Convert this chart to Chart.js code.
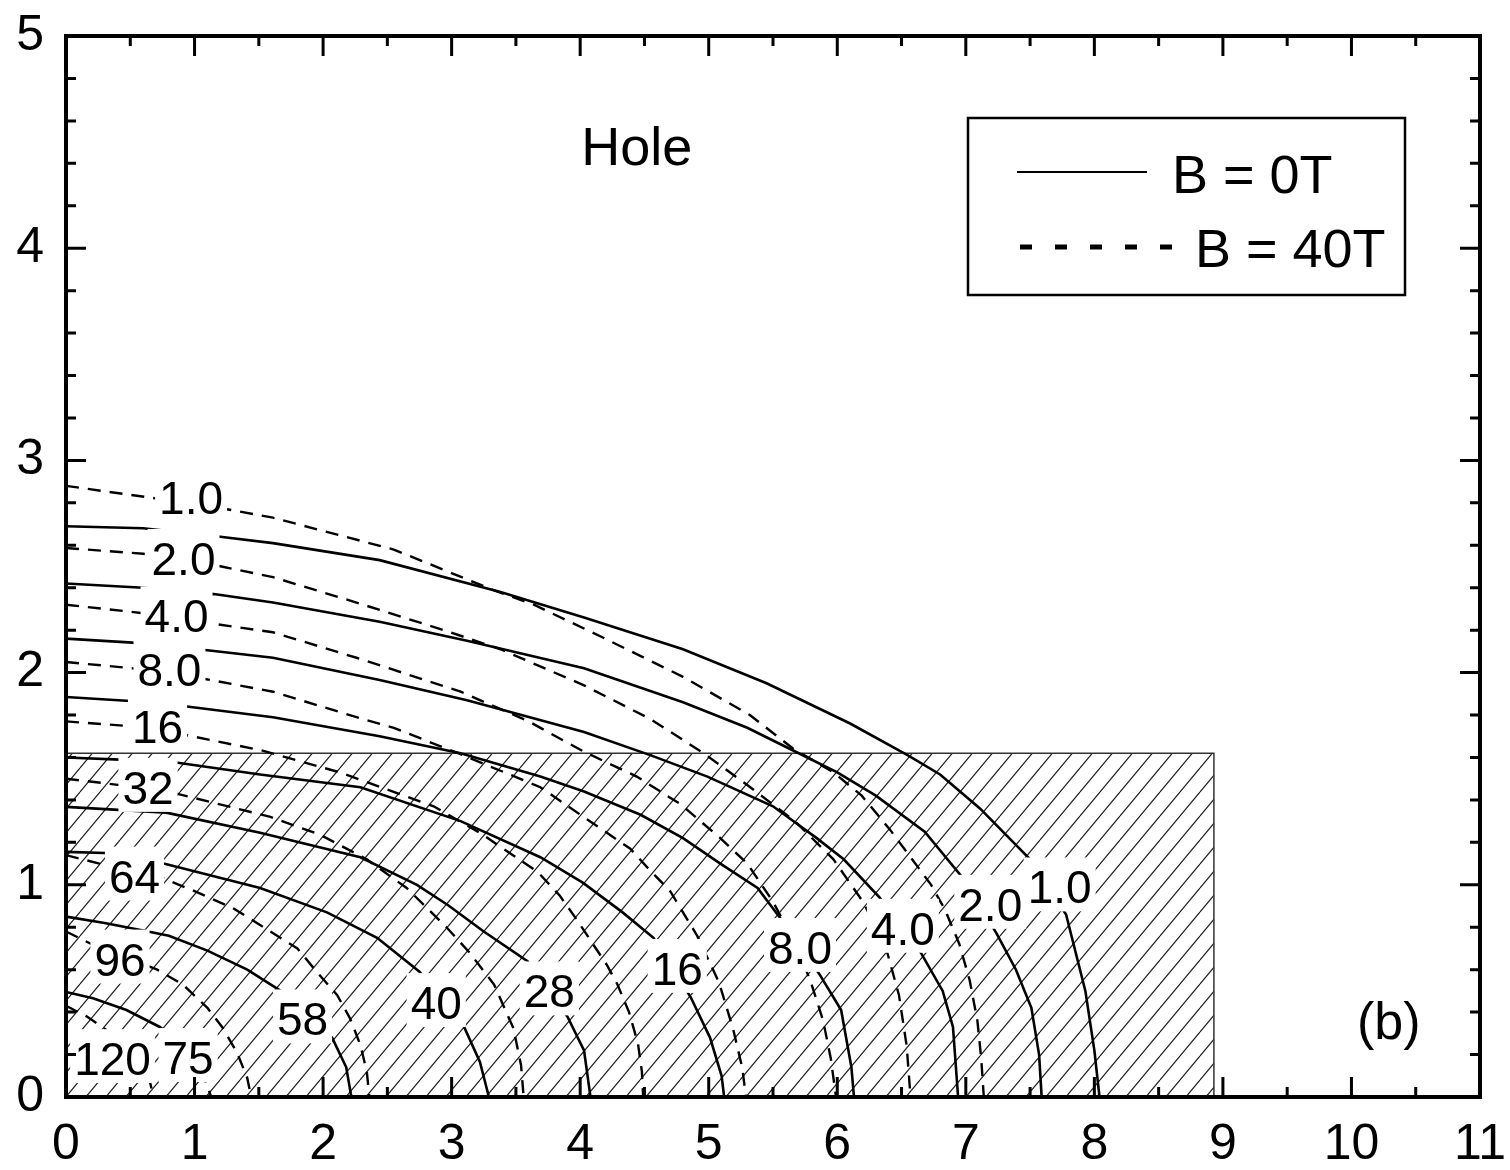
<!DOCTYPE html>
<html>
<head>
<meta charset="utf-8">
<script src="https://cdn.jsdelivr.net/npm/chart.js@4.4.0/dist/chart.umd.min.js"></script>
<style>
  html, body { margin: 0; padding: 0; background: #fff; }
  #wrap { width: 1510px; height: 1170px; }
</style>
</head>
<body>
<div id="wrap"><canvas id="holeChart"></canvas></div>
<script>
// B = 0T contours (solid), points as [x, y]
const s1_0 = [[0,2.69],[0.6,2.68],[1.2,2.64],[1.61,2.61],[2.44,2.53],[3.38,2.38],[4.03,2.26],[4.8,2.11],[5.45,1.95],[6.1,1.76],[6.55,1.61],[6.8,1.52],[7.11,1.36],[7.5,1.12],[7.78,0.86],[7.93,0.5],[8.0,0.22],[8.04,0]];
const s2_0 = [[0,2.42],[0.6,2.40],[1.15,2.37],[1.61,2.33],[2.44,2.24],[3.12,2.15],[4.03,2.02],[4.8,1.86],[5.3,1.74],[5.7,1.62],[6.0,1.53],[6.3,1.42],[6.68,1.25],[6.98,1.03],[7.24,0.77],[7.39,0.6],[7.51,0.42],[7.57,0.2],[7.59,0]];
const s4_0 = [[0,2.16],[0.55,2.14],[1.1,2.105],[1.61,2.07],[2.44,1.965],[3.12,1.87],[4.03,1.72],[4.55,1.61],[4.99,1.51],[5.5,1.37],[5.84,1.22],[6.05,1.12],[6.33,0.94],[6.65,0.68],[6.82,0.5],[6.9,0.33],[6.94,0]];
const s8_0 = [[0,1.885],[0.5,1.866],[0.94,1.84],[1.61,1.79],[2.44,1.70],[3.07,1.62],[3.69,1.51],[4.03,1.44],[4.47,1.33],[4.8,1.22],[5.09,1.1],[5.38,0.985],[5.56,0.84],[5.86,0.58],[6.03,0.41],[6.11,0.14],[6.13,0]];
const s16 = [[0,1.60],[0.42,1.59],[0.87,1.575],[1.51,1.52],[2.29,1.46],[3.07,1.30],[3.69,1.13],[4.02,1.01],[4.33,0.87],[4.57,0.75],[4.86,0.47],[5.01,0.28],[5.1,0.1],[5.12,0]];
const s28 = [[0,1.367],[0.78,1.34],[1.51,1.245],[2.29,1.13],[2.73,1.0],[2.97,0.905],[3.25,0.78],[3.59,0.64],[3.9,0.38],[4.03,0.22],[4.08,0]];
const s40 = [[0,1.155],[0.3,1.15],[0.76,1.10],[1.51,0.985],[2.03,0.87],[2.42,0.75],[2.75,0.59],[3.09,0.34],[3.22,0.165],[3.29,0]];
const s58 = [[0,0.85],[0.3,0.82],[0.6,0.785],[0.8,0.76],[1.1,0.69],[1.41,0.6],[1.67,0.5],[1.85,0.4],[2.07,0.28],[2.18,0.14],[2.22,0]];
const s75 = [[0,0.495],[0.21,0.465],[0.47,0.41],[0.73,0.33],[0.9,0.25]];

// B = 40T contours (dashed)
const d1_0 = [[0,2.88],[0.71,2.82],[1.25,2.77],[1.61,2.73],[2.55,2.58],[3.32,2.39],[3.64,2.32],[4.16,2.17],[4.8,1.98],[5.32,1.80],[5.66,1.64],[5.97,1.53],[6.19,1.42],[6.41,1.26],[6.57,1.13],[6.73,1.0],[6.84,0.88],[6.95,0.72],[7.03,0.55],[7.09,0.36],[7.12,0.18],[7.14,0]];
const d2_0 = [[0,2.587],[0.6,2.56],[1.21,2.50],[1.61,2.45],[2.26,2.33],[2.99,2.19],[3.38,2.11],[4.03,1.94],[4.55,1.78],[4.96,1.62],[5.3,1.47],[5.67,1.3],[5.97,1.12],[6.2,0.92],[6.38,0.7],[6.48,0.48],[6.54,0.24],[6.57,0]];
const d4_0 = [[0,2.32],[0.6,2.28],[1.15,2.23],[1.61,2.19],[2.26,2.07],[3.07,1.91],[3.6,1.77],[4.02,1.63],[4.44,1.51],[4.78,1.38],[5.09,1.22],[5.3,1.1],[5.5,0.92],[5.66,0.74],[5.79,0.55],[5.89,0.36],[5.95,0.18],[5.99,0]];
const d8_0 = [[0,2.05],[0.52,2.02],[1.08,1.97],[1.61,1.91],[2.26,1.79],[2.55,1.74],[3.05,1.62],[3.69,1.46],[4.05,1.31],[4.39,1.17],[4.54,1.07],[4.7,0.97],[4.91,0.76],[5.08,0.54],[5.19,0.32],[5.26,0.14],[5.29,0]];
const d16 = [[0,1.77],[0.45,1.75],[0.93,1.706],[1.51,1.635],[2.13,1.53],[2.86,1.37],[3.22,1.245],[3.67,1.06],[3.84,0.95],[3.98,0.83],[4.1,0.72],[4.21,0.62],[4.29,0.53],[4.38,0.4],[4.45,0.25],[4.48,0.12],[4.49,0]];
const d32 = [[0,1.50],[0.42,1.47],[0.86,1.43],[1.59,1.32],[1.98,1.235],[2.34,1.12],[2.65,0.985],[2.96,0.80],[3.14,0.68],[3.33,0.53],[3.48,0.325],[3.54,0.15],[3.56,0]];
const d64 = [[0,1.14],[0.26,1.10],[0.76,1.03],[1.0,0.97],[1.3,0.89],[1.59,0.78],[1.8,0.70],[1.95,0.59],[2.11,0.48],[2.21,0.37],[2.29,0.245],[2.34,0.12],[2.36,0]];
const d96 = [[0,0.78],[0.2,0.72],[0.71,0.6],[0.91,0.53],[1.1,0.42],[1.22,0.325],[1.33,0.21],[1.41,0.09],[1.44,0]];
const d120 = [[0,0.43],[0.16,0.38],[0.4,0.28],[0.55,0.19],[0.65,0.08],[0.68,0]];
const d75 = [[0.98,0.22],[1.07,0.1],[1.13,0]];

const solidLines = [s1_0, s2_0, s4_0, s8_0, s16, s28, s40, s58, s75];
const dashedLines = [d1_0, d2_0, d4_0, d8_0, d16, d32, d64, d96, d120, d75];

// contour level labels, centred on these points
const labelText = ['1.0', '2.0', '4.0', '8.0', '16', '32', '64', '96', '120', '75', '58', '40', '28', '16', '8.0', '4.0', '2.0', '1.0'];
const labelX = [0.973, 0.914, 0.86, 0.805, 0.712, 0.638, 0.533, 0.42, 0.362, 0.95, 1.84, 2.88, 3.76, 4.755, 5.71, 6.51, 7.19, 7.73];
const labelY = [2.825, 2.538, 2.267, 2.015, 1.748, 1.459, 1.041, 0.65, 0.181, 0.186, 0.368, 0.445, 0.5, 0.606, 0.705, 0.795, 0.908, 0.99];

// hatched region
const hatchX = [0, 8.93];
const hatchY = [0, 1.62];

// free text inside the plot
const noteText = ['Hole', '(b)'];
const noteX = [4.44, 10.29];
const noteY = [4.46, 0.34];

const legendText = ['B = 0T', 'B = 40T'];

const FONT = 'Liberation Sans, Arial, sans-serif';

const toPoints = arr => arr.map(p => ({ x: p[0], y: p[1] }));

function makeHatch(ctx) {
    const s = 20, h = 24;
    const c = document.createElement('canvas');
    c.width = s;
    c.height = h;
    const g = c.getContext('2d');
    g.strokeStyle = '#222';
    g.lineWidth = 1.2;
    g.beginPath();
    for (let k = -1; k <= 1; k++) {
        g.moveTo(k * s, h);
        g.lineTo(k * s + s, 0);
    }
    g.stroke();
    return ctx.createPattern(c, 'repeat');
}

// fixed axis box sizes, no extra room for overhanging end labels
function fixBox(size) {
    return function(scale) {
        if (scale.isHorizontal()) scale.height = size;
        else scale.width = size;
        scale.paddingTop = 0;
        scale.paddingBottom = 0;
        scale.paddingLeft = 0;
        scale.paddingRight = 0;
    };
}

const canvas = document.getElementById('holeChart');
const ctx = canvas.getContext('2d');

const datasets = [];
solidLines.forEach(line => {
    datasets.push({
        data: toPoints(line),
        showLine: true,
        borderColor: '#000',
        borderWidth: 2.6,
        pointRadius: 0,
        tension: 0,
        fill: false,
        order: 0
    });
});
dashedLines.forEach(line => {
    datasets.push({
        data: toPoints(line),
        showLine: true,
        borderColor: '#000',
        borderWidth: 2.4,
        borderDash: [13, 9],
        pointRadius: 0,
        tension: 0,
        fill: false,
        order: 0
    });
});
datasets.push({
    data: [
        { x: hatchX[0], y: hatchY[1] },
        { x: hatchX[1], y: hatchY[1] },
        { x: hatchX[1], y: hatchY[0] }
    ],
    showLine: true,
    borderColor: '#333',
    borderWidth: 1.5,
    backgroundColor: makeHatch(ctx),
    fill: 'origin',
    pointRadius: 0,
    tension: 0,
    order: 1
});

// white-boxed level labels on top of the lines
const contourLabels = {
    id: 'contourLabels',
    afterDatasetsDraw(chart) {
        const { ctx, scales: { x, y } } = chart;
        const size = 46;
        const cap = size * 0.716;
        ctx.save();
        ctx.font = size + 'px ' + FONT;
        ctx.textAlign = 'center';
        ctx.textBaseline = 'alphabetic';
        labelText.forEach((t, i) => {
            const px = x.getPixelForValue(labelX[i]);
            const py = y.getPixelForValue(labelY[i]);
            const w = ctx.measureText(t).width;
            const base = py + cap / 2;
            ctx.fillStyle = '#fff';
            ctx.fillRect(px - w / 2 - 4, base - cap - 13, w + 8, cap + 21);
        });
        labelText.forEach((t, i) => {
            const px = x.getPixelForValue(labelX[i]);
            const py = y.getPixelForValue(labelY[i]);
            ctx.fillStyle = '#000';
            ctx.fillText(t, px, py + cap / 2);
        });
        ctx.restore();
    }
};

// box frame, inward ticks on all four sides, notes and legend
const frame = {
    id: 'frame',
    afterDraw(chart) {
        const { ctx, chartArea: a, scales: { x, y } } = chart;
        ctx.save();
        ctx.strokeStyle = '#000';
        ctx.lineWidth = 3;
        ctx.beginPath();
        for (let v = 0; v <= 11; v += 0.5) {
            const p = x.getPixelForValue(v);
            const len = Number.isInteger(v) ? 20 : 10;
            ctx.moveTo(p, a.bottom); ctx.lineTo(p, a.bottom - len);
            ctx.moveTo(p, a.top); ctx.lineTo(p, a.top + len);
        }
        for (let k = 0; k <= 25; k++) {
            const p = y.getPixelForValue(k / 5);
            const len = k % 5 === 0 ? 20 : 10;
            ctx.moveTo(a.left, p); ctx.lineTo(a.left + len, p);
            ctx.moveTo(a.right, p); ctx.lineTo(a.right - len, p);
        }
        ctx.stroke();
        ctx.lineWidth = 4;
        ctx.strokeRect(a.left, a.top, a.right - a.left, a.bottom - a.top);

        ctx.fillStyle = '#000';
        ctx.textAlign = 'center';
        ctx.textBaseline = 'middle';
        ctx.font = '54px ' + FONT;
        ctx.fillText(noteText[0], x.getPixelForValue(noteX[0]), y.getPixelForValue(noteY[0]));
        ctx.font = '52px ' + FONT;
        ctx.fillText(noteText[1], x.getPixelForValue(noteX[1]), y.getPixelForValue(noteY[1]));

        // legend
        ctx.lineWidth = 2.5;
        ctx.strokeRect(968, 118, 437, 177);
        ctx.beginPath();
        ctx.lineWidth = 2;
        ctx.moveTo(1017, 172); ctx.lineTo(1147, 172);
        ctx.stroke();
        ctx.beginPath();
        ctx.lineWidth = 5;
        ctx.setLineDash([12, 23]);
        ctx.moveTo(1020, 247); ctx.lineTo(1182, 247);
        ctx.stroke();
        ctx.setLineDash([]);
        ctx.textAlign = 'left';
        ctx.textBaseline = 'alphabetic';
        ctx.font = '54px ' + FONT;
        ctx.fillText(legendText[0], 1172, 193);
        ctx.fillText(legendText[1], 1195, 267);
        ctx.restore();
    }
};

new Chart(ctx, {
    type: 'scatter',
    data: { datasets: datasets },
    options: {
        responsive: true,
        maintainAspectRatio: false,
        animation: false,
        layout: { padding: { top: 36, right: 30, left: 0, bottom: 0 } },
        plugins: {
            legend: { display: false },
            tooltip: { enabled: false }
        },
        scales: {
            x: {
                type: 'linear',
                min: 0,
                max: 11,
                afterFit: fixBox(73),
                grid: { display: false, drawTicks: false },
                border: { display: false },
                ticks: {
                    stepSize: 1,
                    color: '#000',
                    padding: 18,
                    maxRotation: 0,
                    autoSkip: false,
                    font: { family: FONT, size: 50 }
                }
            },
            y: {
                type: 'linear',
                min: 0,
                max: 5,
                afterFit: fixBox(66),
                grid: { display: false, drawTicks: false },
                border: { display: false },
                ticks: {
                    stepSize: 1,
                    color: '#000',
                    padding: 22,
                    autoSkip: false,
                    font: { family: FONT, size: 50 }
                }
            }
        }
    },
    plugins: [contourLabels, frame]
});
</script>
</body>
</html>
